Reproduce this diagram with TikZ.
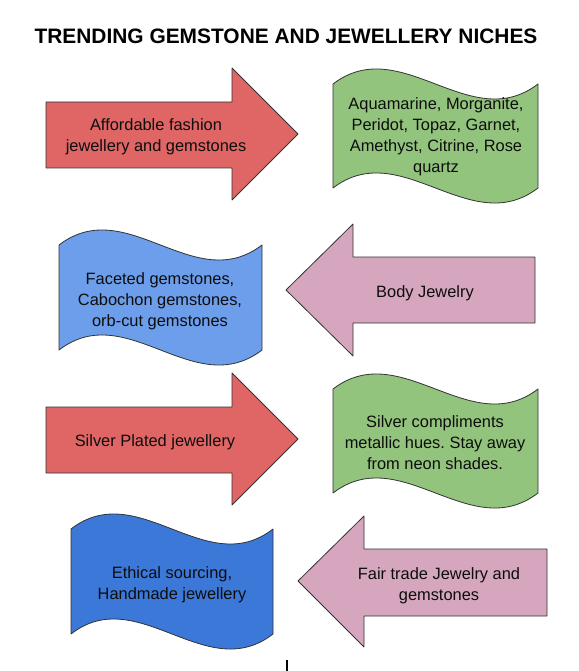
\documentclass[tikz,border=0pt]{standalone}
\usepackage{fontspec}
\setmainfont{Liberation Sans}
\frenchspacing
\definecolor{arrowred}{HTML}{E06666}
\definecolor{arrowpink}{HTML}{D5A6BD}
\definecolor{wavegreen}{HTML}{93C47D}
\definecolor{waveblue}{HTML}{6D9EEB}
\definecolor{wavedarkblue}{HTML}{3C78D8}
\begin{document}
\begin{tikzpicture}[
        x=1pt, y=-1pt,
        every node/.style={font=\fontsize{16.4}{21}\selectfont, text=black!95, align=center},
        outline/.style={draw=black!80, line width=0.8pt, line join=round}
    ]
        \useasboundingbox (0,0) rectangle (578,671);

        \node[font=\bfseries\fontsize{20.9}{24}\selectfont, text=black] (title) at (286,36) {TRENDING GEMSTONE AND JEWELLERY NICHES};

        % row 1
        \draw[outline, fill=arrowred] (46,102) -- (232,102) -- (232,68) -- (298,134) -- (232,200) -- (232,168) -- (46,168) -- cycle;
        \draw[outline, fill=wavegreen] (333,84) .. controls (401,32) and (470,136) .. (538,84) -- (538,188) .. controls (470,240) and (401,136) .. (333,188) -- cycle;
        \node (affordable) at (156,137) {Affordable fashion\\jewellery and gemstones};
        \node (stones) at (436,137) {Aquamarine, Morganite,\\Peridot, Topaz, Garnet,\\Amethyst, Citrine, Rose\\quartz};

        % row 2
        \draw[outline, fill=waveblue] (59,245) .. controls (127,193) and (194,297) .. (262,245) -- (262,350) .. controls (194,402) and (127,298) .. (59,350) -- cycle;
        \draw[outline, fill=arrowpink] (286,290) -- (353,224) -- (353,257) -- (535,257) -- (535,323) -- (353,323) -- (353,356) -- cycle;
        \node (cuts) at (160,301) {Faceted gemstones,\\Cabochon gemstones,\\orb-cut gemstones};
        \node (body) at (425,293) {Body Jewelry};

        % row 3
        \draw[outline, fill=arrowred] (46,407) -- (232,407) -- (232,373) -- (298,439) -- (232,505) -- (232,473) -- (46,473) -- cycle;
        \draw[outline, fill=wavegreen] (333,389) .. controls (401,337) and (470,441) .. (538,389) -- (538,493) .. controls (470,545) and (401,441) .. (333,493) -- cycle;
        \node (silver) at (155,442) {Silver Plated jewellery};
        \node (metallic) at (435,443) {Silver compliments\\metallic hues. Stay away\\from neon shades.};

        % row 4
        \draw[outline, fill=wavedarkblue] (71,529) .. controls (138,477) and (206,581) .. (273,529) -- (273,634) .. controls (206,686) and (138,582) .. (71,634) -- cycle;
        \draw[outline, fill=arrowpink] (298,581) -- (364,516) -- (364,549) -- (547,549) -- (547,616) -- (364,616) -- (364,647) -- cycle;
        \node (ethical) at (172,585) {Ethical sourcing,\\Handmade jewellery};
        \node (fairtrade) at (439,586) {Fair trade Jewelry and\\gemstones};

        \coordinate (caret) at (287,660);
        \draw[line width=1.3pt] (caret) -- ++(0,11);
    \end{tikzpicture}
\end{document}
